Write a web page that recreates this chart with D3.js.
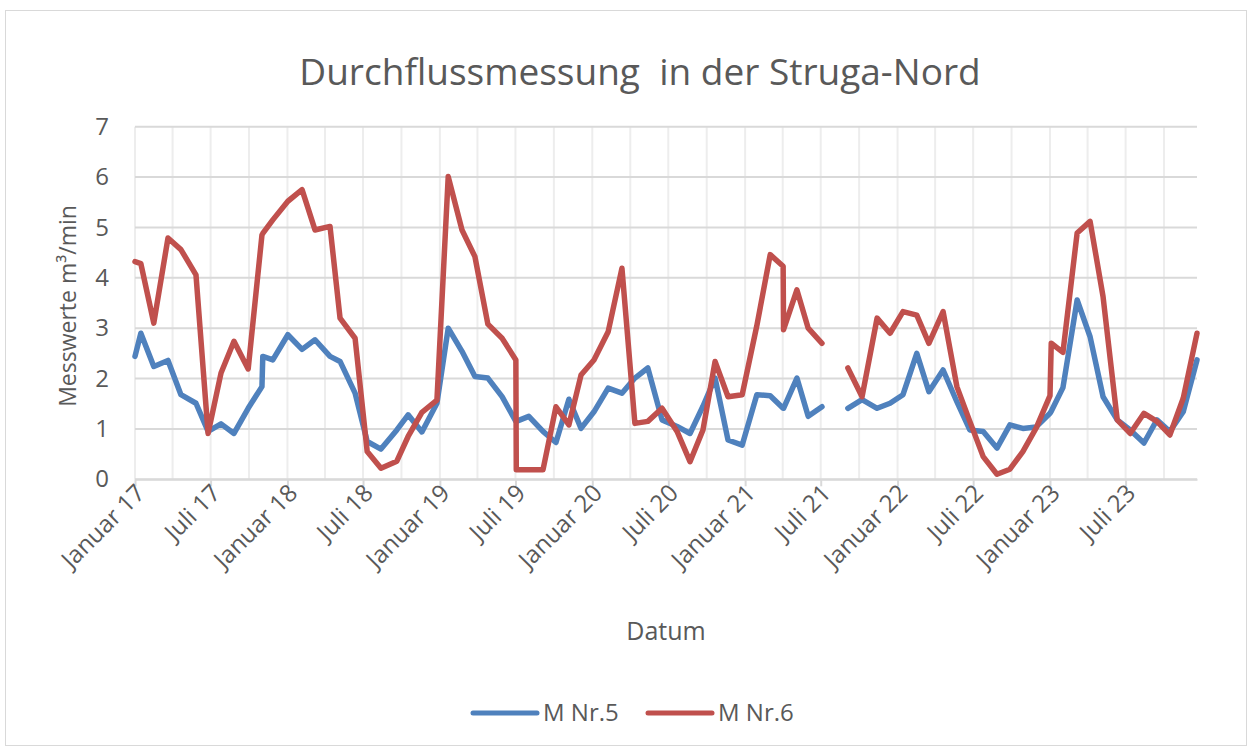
<!DOCTYPE html>
<html>
<head>
<meta charset="utf-8">
<script src="https://cdn.jsdelivr.net/npm/d3@7"></script>
<style>
  body { margin: 0; background: #fff; }
  svg { display: block; font-family: "Open Sans", sans-serif; }
</style>
</head>
<body>
<div class="container"></div>
<script>
const dates = [
  "2017-01-01", "2017-01-15", "2017-02-15", "2017-03-21", "2017-04-21", "2017-05-27",
  "2017-06-25", "2017-07-26", "2017-08-26", "2017-09-29", "2017-11-01", "2017-11-03",
  "2017-11-27", "2018-01-02", "2018-02-05", "2018-03-08", "2018-04-13", "2018-05-07",
  "2018-06-12", "2018-07-11", "2018-08-13", "2018-09-20", "2018-10-17", "2018-11-19",
  "2018-12-25", "2019-01-21", "2019-02-23", "2019-03-26", "2019-04-26", "2019-05-30",
  "2019-07-02", "2019-07-03", "2019-08-02", "2019-09-05", "2019-10-06", "2019-11-06",
  "2019-12-05", "2020-01-05", "2020-02-08", "2020-03-12", "2020-04-12", "2020-05-13",
  "2020-06-16", "2020-07-22", "2020-08-22", "2020-09-22", "2020-10-21", "2020-11-21",
  "2020-12-25", "2021-01-29", "2021-03-02", "2021-04-02", "2021-04-03", "2021-05-05",
  "2021-06-01", "2021-07-04", "2021-08-05", "2021-09-04", "2021-10-08", "2021-11-13",
  "2021-12-14", "2022-01-14", "2022-02-16", "2022-03-17", "2022-04-20", "2022-05-23",
  "2022-06-23", "2022-07-25", "2022-08-27", "2022-09-27", "2022-10-28", "2022-11-29",
  "2023-01-01", "2023-01-04", "2023-02-01", "2023-03-07", "2023-04-07", "2023-05-08",
  "2023-06-11", "2023-07-12", "2023-08-14", "2023-09-14", "2023-10-15", "2023-11-16",
  "2023-12-19"
];

// M Nr.5 (blau)
const mNr5 = [
  2.44, 2.90, 2.24, 2.36, 1.68, 1.51,
  0.95, 1.10, 0.91, 1.41, 1.84, 2.44,
  2.37, 2.87, 2.58, 2.77, 2.44, 2.34,
  1.71, 0.75, 0.60, 0.98, 1.28, 0.94,
  1.51, 3.00, 2.54, 2.04, 2.01, 1.64,
  1.15, 1.15, 1.25, 0.95, 0.73, 1.59,
  1.01, 1.34, 1.81, 1.71, 2.01, 2.21,
  1.18, 1.05, 0.91, 1.45, 2.01, 0.78,
  0.68, 1.68, 1.66, 1.41, 1.41, 2.01,
  1.25, 1.44, null, 1.41, 1.58, 1.41,
  1.51, 1.68, 2.50, 1.74, 2.17, 1.54,
  0.98, 0.95, 0.62, 1.08, 1.01, 1.04,
  1.31, 1.35, 1.82, 3.56, 2.83, 1.64,
  1.18, 0.98, 0.72, 1.18, 0.95, 1.34,
  2.37
];

// M Nr.6 (rot)
const mNr6 = [
  4.32, 4.28, 3.10, 4.79, 4.56, 4.06,
  0.91, 2.11, 2.74, 2.19, 4.85, 4.88,
  5.15, 5.52, 5.75, 4.95, 5.02, 3.20,
  2.80, 0.55, 0.22, 0.36, 0.85, 1.33,
  1.57, 6.01, 4.95, 4.42, 3.08, 2.80,
  2.37, 0.19, 0.19, 0.19, 1.44, 1.08,
  2.07, 2.37, 2.93, 4.19, 1.11, 1.15,
  1.41, 0.95, 0.35, 0.98, 2.34, 1.64,
  1.68, 3.05, 4.46, 4.23, 2.97, 3.76,
  3.00, 2.70, null, 2.21, 1.64, 3.20,
  2.90, 3.33, 3.26, 2.70, 3.33, 1.84,
  1.15, 0.45, 0.10, 0.20, 0.55, 1.02,
  1.66, 2.70, 2.52, 4.89, 5.12, 3.63,
  1.18, 0.91, 1.31, 1.15, 0.88, 1.61,
  2.90
];

const seriesNames = ["M Nr.5", "M Nr.6"];
const seriesColors = ["#4f81bd", "#c0504d"];
const yTicks = [0, 1, 2, 3, 4, 5, 6, 7];

const width = 1253;
const height = 749;
const plot = { left: 135, right: 1197, top: 126.7, bottom: 479.3 };
const textColor = "#595959";

const de = d3.timeFormatLocale({
  dateTime: "%A, der %e. %B %Y, %X",
  date: "%d.%m.%Y",
  time: "%H:%M:%S",
  periods: ["AM", "PM"],
  days: ["Sonntag", "Montag", "Dienstag", "Mittwoch", "Donnerstag", "Freitag", "Samstag"],
  shortDays: ["So", "Mo", "Di", "Mi", "Do", "Fr", "Sa"],
  months: ["Januar", "Februar", "März", "April", "Mai", "Juni", "Juli", "August", "September", "Oktober", "November", "Dezember"],
  shortMonths: ["Jan", "Feb", "Mrz", "Apr", "Mai", "Jun", "Jul", "Aug", "Sep", "Okt", "Nov", "Dez"]
});
const formatTick = de.format("%B %y");
const parseDate = d3.timeParse("%Y-%m-%d");

const rows = dates.map((d, i) => ({ date: parseDate(d), values: [mNr5[i], mNr6[i]] }));

const svg = d3.select(".container")
  .append("svg")
    .attr("width", width)
    .attr("height", height);

svg.append("rect")
    .attr("width", width)
    .attr("height", height)
    .attr("fill", "#fff");

// Rahmen des Diagramms
svg.append("rect")
    .attr("x", 5.5)
    .attr("y", 10.5)
    .attr("width", 1241)
    .attr("height", 735)
    .attr("fill", "none")
    .attr("stroke", "#d9d9d9");

const x = d3.scaleTime()
  .domain([parseDate(dates[0]), parseDate(dates[dates.length - 1])])
  .range([plot.left, plot.right]);

const y = d3.scaleLinear()
  .domain([0, 7])
  .range([plot.bottom, plot.top]);

const majorTicks = d3.timeMonth.every(6).range(x.domain()[0], d3.timeDay.offset(x.domain()[1], 1));
const minorTicks = d3.timeMonth.every(3).range(x.domain()[0], d3.timeDay.offset(x.domain()[1], 1));

// vertikale Gitterlinien (Quartale)
svg.append("g")
  .selectAll("line")
  .data(minorTicks)
    .enter()
  .append("line")
    .attr("x1", d => x(d))
    .attr("x2", d => x(d))
    .attr("y1", plot.top)
    .attr("y2", plot.bottom)
    .attr("stroke", "#ededed")
    .attr("stroke-width", 2);

// horizontale Gitterlinien
svg.append("g")
  .selectAll("line")
  .data(yTicks)
    .enter()
  .append("line")
    .attr("x1", plot.left)
    .attr("x2", plot.right)
    .attr("y1", d => y(d))
    .attr("y2", d => y(d))
    .attr("stroke", "#d9d9d9")
    .attr("stroke-width", 2);

// Y-Achse
const yAxis = svg.append("g")
  .attr("transform", `translate(${plot.left}, 0)`)
  .call(d3.axisLeft(y).tickValues(yTicks).tickFormat(d3.format("d")).tickSize(0).tickPadding(26))
  .attr("font-family", null)
  .attr("font-size", null);
yAxis.select(".domain").remove();
yAxis.selectAll("text")
  .attr("fill", textColor)
  .style("font-size", "24px");

// X-Achse
const xAxis = svg.append("g")
  .attr("transform", `translate(0, ${plot.bottom})`)
  .call(d3.axisBottom(x).tickValues(majorTicks).tickFormat(formatTick).tickSize(7).tickSizeOuter(0))
  .attr("font-family", null)
  .attr("font-size", null);
xAxis.select(".domain")
  .attr("stroke", "#d9d9d9")
  .attr("stroke-width", 2);
xAxis.selectAll(".tick line")
  .attr("stroke", "#d9d9d9")
  .attr("stroke-width", 2);
xAxis.selectAll("text")
  .attr("fill", textColor)
  .style("font-size", "24px")
  .attr("text-anchor", "end")
  .attr("dy", "0.35em")
  .attr("transform", "translate(5, -2) rotate(-45)")
  .attr("x", -8)
  .attr("y", 8);

// Linien
const line = d3.line()
  .defined(d => d.value != null)
  .x(d => x(d.date))
  .y(d => y(d.value));

seriesNames.forEach((name, s) => {
  svg.append("path")
    .datum(rows.map(r => ({ date: r.date, value: r.values[s] })))
      .attr("fill", "none")
      .attr("stroke", seriesColors[s])
      .attr("stroke-width", 5.5)
      .attr("stroke-linejoin", "round")
      .attr("stroke-linecap", "round")
      .attr("d", line);
});

// Titel
svg.append("text")
    .attr("x", 640)
    .attr("y", 85)
    .attr("text-anchor", "middle")
    .attr("fill", textColor)
    .style("font-size", "37px")
    .attr("xml:space", "preserve")
    .text("Durchflussmessung  in der Struga-Nord");

// Achsentitel
svg.append("text")
    .attr("x", (plot.left + plot.right) / 2)
    .attr("y", 640)
    .attr("text-anchor", "middle")
    .attr("fill", textColor)
    .style("font-size", "25px")
    .text("Datum");

svg.append("text")
    .attr("transform", "translate(76, 306) rotate(-90)")
    .attr("text-anchor", "middle")
    .attr("fill", textColor)
    .style("font-size", "23px")
    .text("Messwerte m³/min");

// Legende
const legendX = [473, 648];
const legend = svg.append("g")
  .selectAll("g")
  .data(seriesNames)
    .enter()
  .append("g")
    .attr("transform", (d, i) => `translate(${legendX[i]}, 713)`);

legend.append("line")
    .attr("x2", 64)
    .attr("stroke", (d, i) => seriesColors[i])
    .attr("stroke-width", 5)
    .attr("stroke-linecap", "round");

legend.append("text")
    .attr("x", 70)
    .attr("dy", "0.35em")
    .attr("fill", textColor)
    .style("font-size", "24px")
    .text(d => d);
</script>
</body>
</html>
